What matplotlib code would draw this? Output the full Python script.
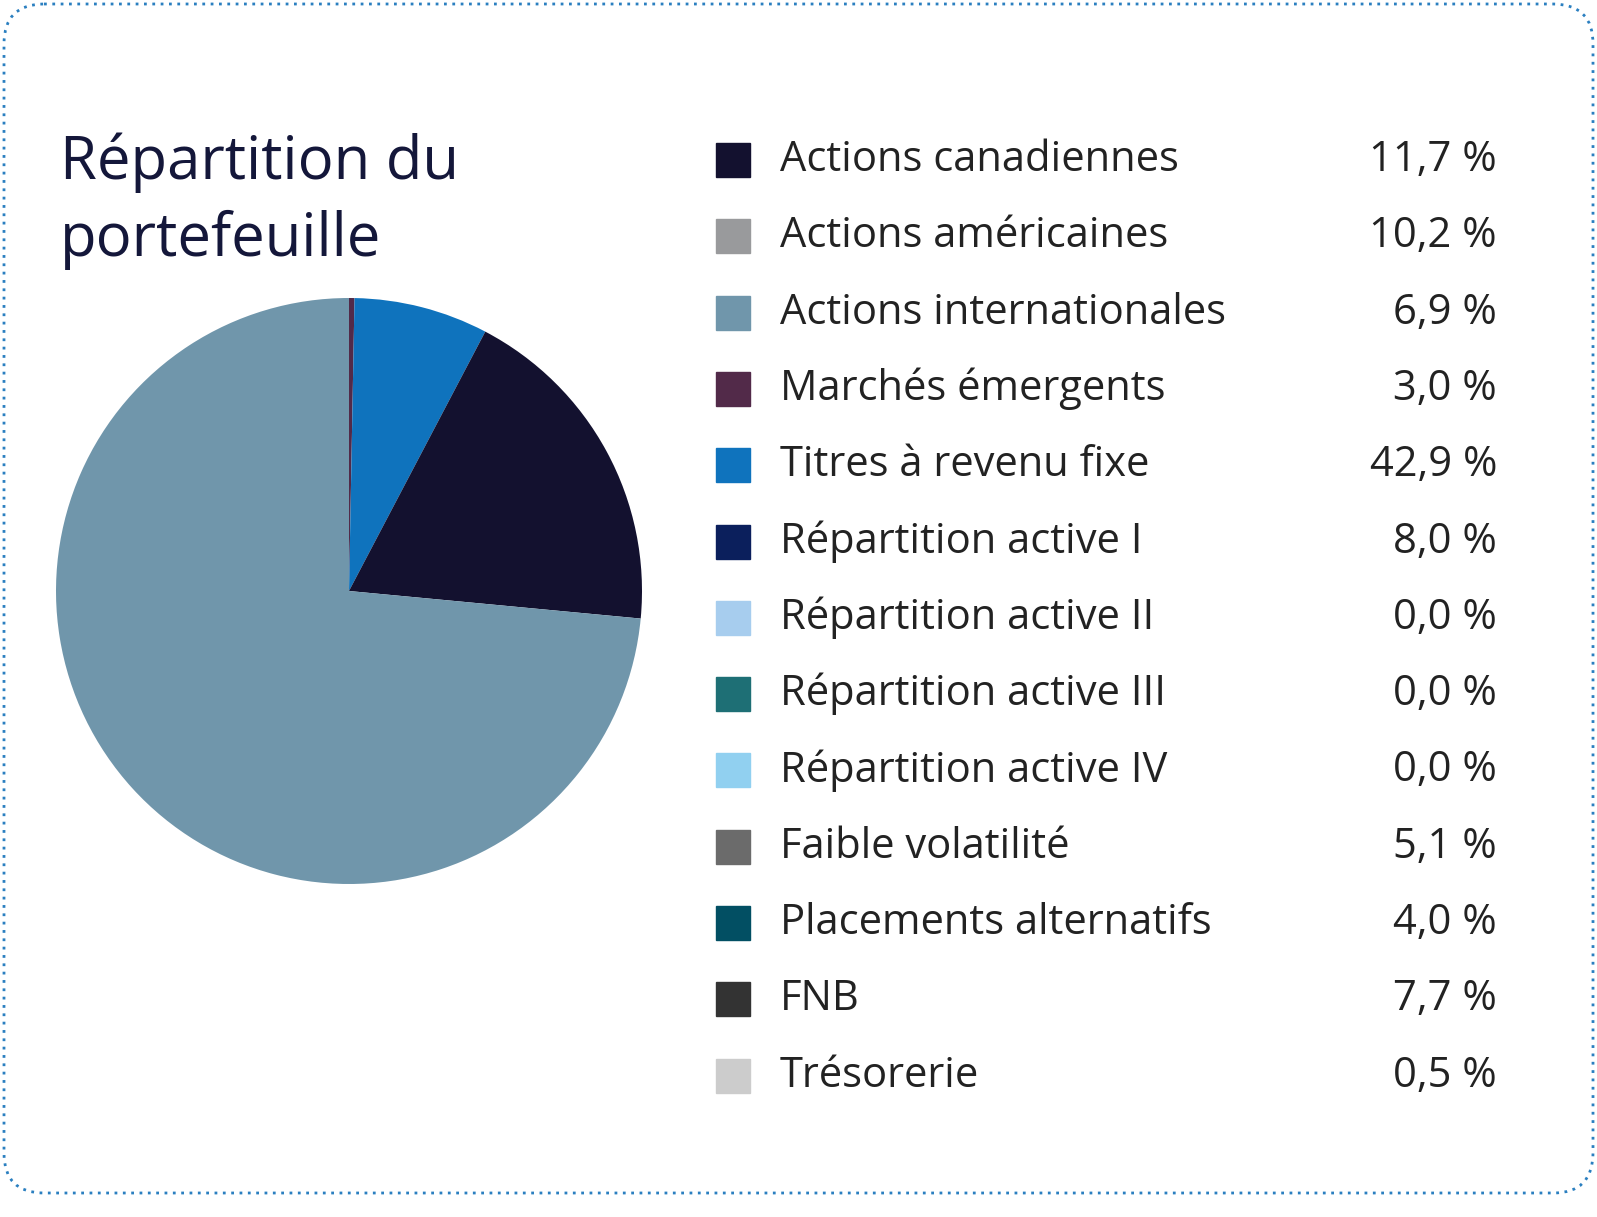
import matplotlib.pyplot as plt
from matplotlib.patches import FancyBboxPatch, Rectangle

plt.rcParams['font.family'] = ['Open Sans', 'DejaVu Sans']

# legend entries
labels = ["Actions canadiennes", "Actions américaines", "Actions internationales",
          "Marchés émergents", "Titres à revenu fixe", "Répartition active I",
          "Répartition active II", "Répartition active III", "Répartition active IV",
          "Faible volatilité", "Placements alternatifs", "FNB", "Trésorerie"]
values = ["11,7 %", "10,2 %", "6,9 %", "3,0 %", "42,9 %", "8,0 %", "0,0 %",
          "0,0 %", "0,0 %", "5,1 %", "4,0 %", "7,7 %", "0,5 %"]
colors = ["#13112f", "#999a9c", "#7096ab", "#522a49", "#0f73bd", "#0b1f5c",
          "#a7cdee", "#1e6f75", "#91d0f0", "#6b6b6b", "#024f63", "#333333", "#cccccc"]

# pie slices as drawn in the picture (clockwise from top)
pie_vals = [0.3, 7.4, 18.8, 73.5]
pie_colors = ["#522a49", "#0f73bd", "#13112f", "#7096ab"]

W, H = 1597, 1217
fig = plt.figure(figsize=(W / 100, H / 100), dpi=100)
bg = fig.add_axes([0, 0, 1, 1])
bg.set_xlim(0, W)
bg.set_ylim(H, 0)
bg.axis('off')

bg.add_patch(FancyBboxPatch((4, 4), W - 8, H - 28, boxstyle="round,pad=0,rounding_size=40",
                            fill=False, ec="#2a7fc0", lw=2, ls=(0, (1, 2))))

bg.text(60, 163, "Répartition du", fontsize=43, color="#14173a", va='center')
bg.text(60, 240, "portefeuille", fontsize=43, color="#14173a", va='center')

y0, step = 160, 76.3
for i, (lab, val, c) in enumerate(zip(labels, values, colors)):
    y = y0 + i * step
    bg.add_patch(Rectangle((716, y - 17), 34, 34, color=c))
    bg.text(780, y, lab, fontsize=30, color="#222222", va='center')
    bg.text(1497, y, val, fontsize=30, color="#222222", va='center', ha='right')

cx, cy, r = 349, 591, 293
ax = fig.add_axes([(cx - r) / W, (H - cy - r) / H, 2 * r / W, 2 * r / H])
ax.pie(pie_vals, colors=pie_colors, startangle=90, counterclock=False,
       wedgeprops=dict(linewidth=0))
ax.set_xlim(-1, 1)
ax.set_ylim(-1, 1)
ax.set_aspect('equal')

fig.savefig("out.png", dpi=100)
